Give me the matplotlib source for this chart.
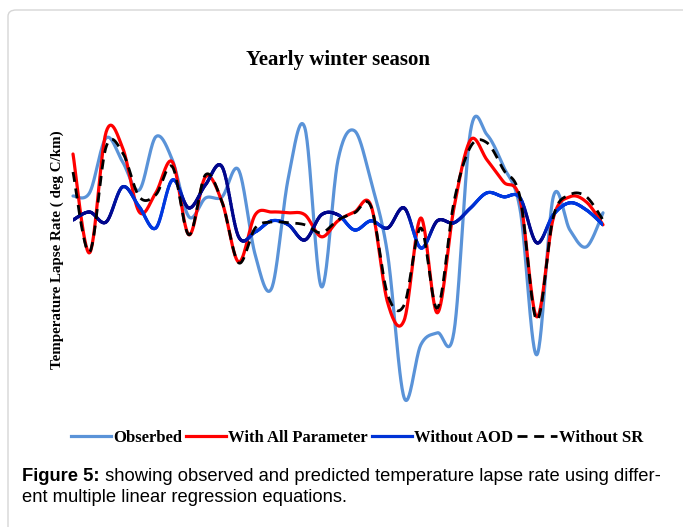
import numpy as np
import matplotlib
matplotlib.use("Agg")
import matplotlib.pyplot as plt
from matplotlib.collections import LineCollection
from matplotlib.lines import Line2D
from matplotlib.patches import FancyBboxPatch
from matplotlib.colors import to_rgb

# ---------------- data (arbitrary units, axis has no ticks) ----------------
years = list(range(33))
observed = [5.60, 5.68, 7.05, 6.45, 5.75, 7.08, 6.50, 5.08, 5.55, 5.58, 6.25,
            4.13, 3.30, 6.05, 7.30, 3.33, 6.50, 7.23, 5.95, 4.13, 0.55, 1.88,
            2.18, 2.20, 7.22, 7.13, 6.33, 5.25, 1.63, 5.58, 4.75, 4.33, 5.18]
with_all = [6.65, 4.18, 7.20, 6.80, 5.20, 5.68, 6.45, 4.63, 6.08, 5.45, 3.95,
            5.13, 5.20, 5.18, 5.13, 4.58, 4.98, 5.20, 5.35, 2.93, 2.50, 5.05,
            2.68, 5.30, 7.00, 6.50, 5.95, 5.50, 2.58, 5.05, 5.58, 5.45, 4.88]
without_aod = [5.00, 5.20, 4.95, 5.83, 5.33, 4.80, 6.00, 5.30, 5.88, 6.33, 4.58,
               4.70, 4.98, 4.88, 4.50, 5.13, 5.13, 4.75, 4.98, 4.80, 5.30, 4.30,
               4.98, 4.93, 5.30, 5.68, 5.58, 5.55, 4.43, 5.13, 5.43, 5.25, 4.88]
without_sr = [6.20, 4.20, 6.83, 6.68, 5.58, 5.63, 6.33, 4.63, 6.13, 5.45, 3.93,
              4.80, 4.95, 4.93, 4.88, 4.68, 5.00, 5.18, 5.33, 3.13, 2.88, 4.80,
              2.80, 5.45, 6.83, 6.93, 6.25, 5.55, 2.50, 5.08, 5.63, 5.58, 5.00]
labels = ["Obserbed", "With All Parameter", "Without AOD", "Without SR"]


def smooth(xs, ys, n=30):
    """Excel-like smoothed line (Catmull-Rom Bezier through the points)."""
    p = np.column_stack([np.asarray(xs, float), np.asarray(ys, float)])
    pp = np.vstack([p[0], p, p[-1]])
    out = []
    t = np.linspace(0, 1, n, endpoint=False)[:, None]
    for i in range(len(p) - 1):
        p0, p1, p2, p3 = pp[i], pp[i + 1], pp[i + 2], pp[i + 3]
        c1 = p1 + (p2 - p0) / 6.0
        c2 = p2 - (p3 - p1) / 6.0
        seg = ((1 - t) ** 3) * p1 + 3 * ((1 - t) ** 2) * t * c1 + \
            3 * (1 - t) * t ** 2 * c2 + t ** 3 * p2
        out.append(seg)
    out.append(p[-1][None, :])
    s = np.vstack(out)
    return s[:, 0], s[:, 1]


W, H = 683, 527
fig = plt.figure(figsize=(W / 100, H / 100), dpi=100)
fig.patch.set_facecolor("white")

# card border
card = FancyBboxPatch((8 / W, -60 / H), 1.2, (527 - 10 + 60) / H,
                      boxstyle="round,pad=0,rounding_size=0.012",
                      transform=fig.transFigure, fc="none", ec="#d6d6d6",
                      lw=1.0, zorder=0)
fig.patches.append(card)

ax = fig.add_axes([73 / W, (527 - 410) / H, 530 / W, 300 / H])
ax.set_xlim(0, 32)
ax.set_ylim(0.25, 7.75)
ax.axis("off")

c_obs = "#5a93d8"
c_red = "#ff0000"
c_navy = np.array(to_rgb("#00068c"))
c_bright = np.array(to_rgb("#0038e0"))

x, y = smooth(years, observed)
ax.plot(x, y, color=c_obs, lw=2.3, solid_capstyle="round", zorder=2,
        clip_on=False)
x, y = smooth(years, with_all)
ax.plot(x, y, color=c_red, lw=2.3, solid_capstyle="round", zorder=3,
        clip_on=False)

# gradient blue line
x, y = smooth(years, without_aod)
stop_pos = [0, 2.2, 3.1, 3.9, 6.3, 6.8, 10.3, 10.9, 12.5, 14.0, 16.0, 16.4,
            18.5, 19.1, 20.2, 20.6, 21.3, 21.8, 22.6, 24.5, 27.0, 27.4, 28.3,
            28.8, 32]
stop_mix = [0, 0, 0.5, 1, 1, 0, 0, 1, 1, 0, 0, 1,
            1, 0, 0, 1, 1, 0, 0, 1, 1, 0, 0,
            1, 1]
mix = np.interp((x[:-1] + x[1:]) / 2, stop_pos, stop_mix)[:, None]
cols = (1 - mix) * c_navy + mix * c_bright
pts = np.column_stack([x, y]).reshape(-1, 1, 2)
segs = np.concatenate([pts[:-1], pts[1:]], axis=1)
lc = LineCollection(segs, colors=cols, linewidths=2.3, capstyle="round",
                    zorder=4)
ax.add_collection(lc)

x, y = smooth(years, without_sr)
ax.plot(x, y, color="black", lw=2.0, ls=(0, (3.6, 2.4)), zorder=5,
        clip_on=False)

serif = ["Liberation Serif", "DejaVu Serif"]
fig.text(338 / W, 1 - 60 / H, "Yearly winter season", ha="center",
         va="center", family=serif, weight="bold", fontsize=15)
fig.text(57 / W, 1 - 250 / H, "Temperature Lapse Rate ( deg C/km)",
         rotation=90, ha="center", va="center", family=serif,
         weight="bold", fontsize=10.8)

handles = [Line2D([], [], color=c_obs, lw=2.3),
           Line2D([], [], color=c_red, lw=2.3),
           Line2D([], [], color="#0033d6", lw=2.3),
           Line2D([], [], color="black", lw=2.0, ls=(0, (3.6, 2.4)))]
fig.legend(handles, labels, loc="center", bbox_to_anchor=(357 / W, 1 - 438 / H),
           ncol=4, frameon=False, handlelength=2.4, handletextpad=0.12,
           columnspacing=0.25,
           prop={"family": serif, "weight": "bold", "size": 12})

sans = ["Liberation Sans", "DejaVu Sans"]
t1 = fig.text(22 / W, 1 - 485 / H, "Figure 5:", family=sans, weight="bold",
              fontsize=13.2, va="bottom", ha="left")
ax.annotate(" showing observed and predicted temperature lapse rate using differ-",
            xy=(1, 0), xycoords=t1, va="bottom", ha="left", family=sans,
            fontsize=13.2, annotation_clip=False)
fig.text(22 / W, 1 - 506 / H, "ent multiple linear regression equations.",
         family=sans, fontsize=13.2, va="bottom", ha="left")

fig.savefig("out.png", dpi=100, facecolor="white")
